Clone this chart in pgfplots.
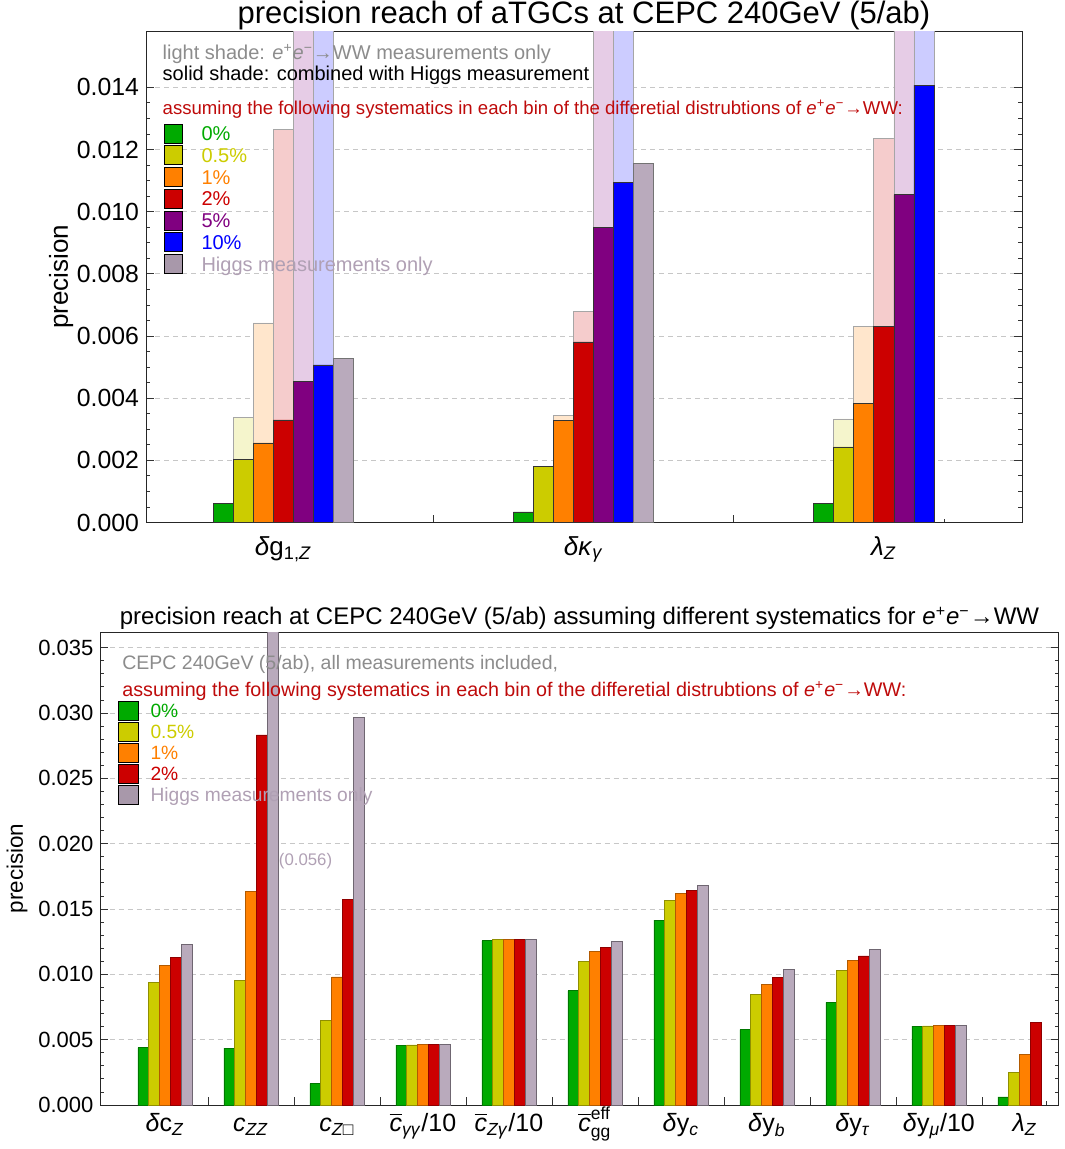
\documentclass[border=0pt]{standalone}
\usepackage{amsmath}
\usepackage{fontspec}
\setmainfont{Liberation Sans}
\usepackage{pgfplots}
\pgfplotsset{compat=1.18}
\definecolor{cgreen}{RGB}{0,170,0}
\definecolor{cyellow}{RGB}{204,204,0}
\definecolor{corange}{RGB}{255,128,0}
\definecolor{cred}{RGB}{204,0,0}
\definecolor{cpurple}{RGB}{128,0,128}
\definecolor{cblue}{RGB}{0,0,255}
\definecolor{chiggs}{RGB}{185,170,188}
\definecolor{chiggsleg}{RGB}{168,152,170}
\definecolor{thiggs}{RGB}{176,160,180}
\definecolor{tgray}{RGB}{140,140,140}
\definecolor{tred}{RGB}{190,10,10}
\pgfplotsset{
  topsolid/.style={ybar, bar width=20.07, bar shift=0pt, forget plot, draw=black!80, line width=0.4pt},
  toplight/.style={ybar, bar width=20.07, bar shift=0pt, forget plot, draw=black!35, line width=0.4pt},
  botbar/.style={ybar, bar width=10.8, bar shift=0pt, forget plot, line width=0.4pt},
}
\begin{document}
\begin{tikzpicture}
\useasboundingbox (0,0) rectangle (532pt,-574.5pt);
% ---------------- top panel ----------------
\begin{axis}[
  at={(73pt,-261.25pt)}, anchor=south west, scale only axis,
  width=438pt, height=245.55pt,
  xmin=146, xmax=1022, ymin=0, ymax=0.0158,
  xtick={433.4,733.7}, xticklabels={},
  extra x ticks={283.25,583.55,883.85},
  extra x tick labels={{\textit{δ}g$_{\text{1,\textit{Z}}}$},{\textit{δκ}$_{\text{\textit{γ}}}$},{\textit{λ}$_{\text{\textit{Z}}}$}},
  extra x tick style={major tick length=0pt, grid=none},
  xticklabel style={font=\fontsize{13}{15}\selectfont, anchor=base, yshift=-16.25pt},
  minor xtick={223.04,243.11,263.18,283.25,303.32,323.39,343.46,523.34,543.41,563.48,583.55,603.62,623.69,643.76,823.64,843.71,863.78,883.85,903.92,923.99,944.06},
  xtick pos=left,
  ytick={0,0.002,0.004,0.006,0.008,0.010,0.012,0.014},
  minor y tick num=3,
  scaled y ticks=false,
  /pgf/number format/assume math mode=true,
  yticklabel style={/pgf/number format/fixed, /pgf/number format/fixed zerofill, /pgf/number format/precision=3, font=\fontsize{12.4}{14}\selectfont},
  ymajorgrids, grid style={dash pattern=on 2.5pt off 2pt, black!22, line width=0.4pt},
  tick align=inside, major tick length=3.8pt, minor tick length=1.8pt,
  tick style={black!80, line width=0.4pt},
  axis line style={black!85, line width=0.5pt},
  title={precision reach of aTGCs at CEPC 240GeV (5/ab)},
  title style={at={(0.5,1)}, anchor=base, yshift=-2.3pt, font=\fontsize{15.5}{18}\selectfont},
  ylabel={precision},
  ylabel style={at={(axis description cs:-0.097,0.5)}, anchor=center, font=\fontsize{13}{15}\selectfont},
  legend style={at={(axis description cs:0.02055,0.8138)}, anchor=north west, draw=none, fill=none,
    inner sep=0pt, outer sep=0pt, row sep=0pt, column sep=9.15pt,
    font=\fontsize{10}{12}\selectfont,
    nodes={inner sep=0pt, text height=9.025pt, text depth=1.825pt}},
  legend cell align=left,
  legend image code/.code={\fill[#1] (0pt,-4.75pt) rectangle (9.2pt,4.75pt);},
]
% light shades (e+e- -> WW only)
\addplot[toplight, fill=cyellow!20] coordinates {(243.11,0.00338) (843.71,0.00333)};
\addplot[toplight, fill=corange!20] coordinates {(263.18,0.00642) (563.48,0.00345) (863.78,0.00631)};
\addplot[toplight, fill=cred!20] coordinates {(283.25,0.01265) (583.55,0.00678) (883.85,0.01237)};
\addplot[toplight, fill=cpurple!20] coordinates {(303.32,0.0170) (603.62,0.0170) (903.92,0.0170)};
\addplot[toplight, fill=cblue!20] coordinates {(323.39,0.0170) (623.69,0.0170) (923.99,0.0170)};
% solid shades (combined)
\addplot[topsolid, fill=cgreen] coordinates {(223.04,0.00062) (523.34,0.00034) (823.64,0.00062)};
\addplot[topsolid, fill=cyellow] coordinates {(243.11,0.00202) (543.41,0.00180) (843.71,0.00243)};
\addplot[topsolid, fill=corange] coordinates {(263.18,0.00256) (563.48,0.00328) (863.78,0.00384)};
\addplot[topsolid, fill=cred] coordinates {(283.25,0.00330) (583.55,0.00581) (883.85,0.00631)};
\addplot[topsolid, fill=cpurple] coordinates {(303.32,0.00453) (603.62,0.00949) (903.92,0.01055)};
\addplot[topsolid, fill=cblue] coordinates {(323.39,0.00507) (623.69,0.01093) (923.99,0.01407)};
\addplot[toplight, fill=chiggs, draw=black!55] coordinates {(343.46,0.00528) (643.76,0.01155)};
% legend
\addlegendimage{fill=cgreen}\addlegendentry{\textcolor{cgreen}{0\%}}
\addlegendimage{fill=cyellow}\addlegendentry{\textcolor{cyellow}{0.5\%}}
\addlegendimage{fill=corange}\addlegendentry{\textcolor{corange}{1\%}}
\addlegendimage{fill=cred}\addlegendentry{\textcolor{cred}{2\%}}
\addlegendimage{fill=cpurple}\addlegendentry{\textcolor{cpurple}{5\%}}
\addlegendimage{fill=cblue}\addlegendentry{\textcolor{cblue}{10\%}}
\addlegendimage{fill=chiggsleg}\addlegendentry{\textcolor{thiggs}{Higgs measurements only}}
\node[anchor=base west, inner sep=0pt, text=tgray, font=\fontsize{10}{12}\selectfont] at (axis description cs:0.0186,0.9418) {light shade: \textit{e}\textsuperscript{+}\textit{e}\textsuperscript{−}→WW measurements only};
\node[anchor=base west, inner sep=0pt, text=black, font=\fontsize{10}{12}\selectfont] at (axis description cs:0.0186,0.8996) {solid shade: combined with Higgs measurement};
\node[anchor=base west, inner sep=0pt, text=tred, font=\fontsize{9.3}{11}\selectfont] at (axis description cs:0.0186,0.8298) {assuming the following systematics in each bin of the differetial distrubtions of \textit{e}\textsuperscript{+}\textit{e}\textsuperscript{−}→WW:};
\end{axis}
% ---------------- bottom panel ----------------
\begin{axis}[
  at={(50.25pt,-552.5pt)}, anchor=south west, scale only axis,
  width=479pt, height=236.5pt,
  xmin=100.5, xmax=1058.5, ymin=0, ymax=0.0362,
  xtick={207.9,293.9,379.9,465.9,551.9,637.9,723.9,809.9,895.9,981.9}, xticklabels={},
  extra x ticks={164.9,250.9,336.9,422.9,508.9,594.9,680.9,766.9,852.9,938.9,1024.9},
  extra x tick labels={
    {\textit{δ}c$_{\text{\textit{Z}}}$},
    {\textit{c}$_{\text{\textit{ZZ}}}$},
    {\textit{c}$_{\text{\textit{Z}□}}$},
    {$\overline{\text{\textit{c}}}_{\text{\textit{γγ}}}$/10},
    {$\overline{\text{\textit{c}}}_{\text{\textit{Zγ}}}$/10},
    {$\overline{\text{\textit{c}}}^{\text{eff}}_{\text{gg}}$},
    {\textit{δ}y$_{\text{\textit{c}}}$},
    {\textit{δ}y$_{\text{\textit{b}}}$},
    {\textit{δ}y$_{\text{\textit{τ}}}$},
    {\textit{δ}y$_{\text{\textit{μ}}}$/10},
    {\textit{λ}$_{\text{\textit{Z}}}$}},
  extra x tick style={major tick length=0pt, grid=none},
  xticklabel style={font=\fontsize{12.5}{15}\selectfont, anchor=base, yshift=-13.3pt},
  minor xtick={143.3,154.1,164.9,175.7,186.5,229.3,240.1,250.9,261.7,272.5,315.3,326.1,336.9,347.7,358.5,401.3,412.1,422.9,433.7,444.5,487.3,498.1,508.9,519.7,530.5,573.3,584.1,594.9,605.7,616.5,659.3,670.1,680.9,691.7,702.5,745.3,756.1,766.9,777.7,788.5,831.3,842.1,852.9,863.7,874.5,917.3,928.1,938.9,949.7,960.5,1003.3,1014.1,1024.9,1035.7,1046.5},
  xtick pos=left,
  ytick={0,0.005,0.010,0.015,0.020,0.025,0.030,0.035},
  minor y tick num=4,
  scaled y ticks=false,
  /pgf/number format/assume math mode=true,
  yticklabel style={/pgf/number format/fixed, /pgf/number format/fixed zerofill, /pgf/number format/precision=3, font=\fontsize{11}{13}\selectfont},
  ymajorgrids, grid style={dash pattern=on 2.5pt off 2pt, black!22, line width=0.4pt},
  tick align=inside, major tick length=3.8pt, minor tick length=1.8pt,
  tick style={black!80, line width=0.4pt},
  axis line style={black!85, line width=0.5pt},
  title={precision reach at CEPC 240GeV (5/ab) assuming different systematics for \textit{e}\textsuperscript{+}\textit{e}\textsuperscript{−}→WW},
  title style={at={(0.5,1)}, anchor=base, yshift=-2.4pt, font=\fontsize{12}{14}\selectfont},
  ylabel={precision},
  ylabel style={at={(axis description cs:-0.0872,0.5)}, anchor=center, font=\fontsize{11.2}{13}\selectfont},
  legend style={at={(axis description cs:0.0186,0.8552)}, anchor=north west, draw=none, fill=none,
    inner sep=0pt, outer sep=0pt, row sep=0pt, column sep=5.7pt,
    font=\fontsize{9.6}{11}\selectfont,
    nodes={inner sep=0pt, text height=8.7pt, text depth=1.8pt}},
  legend cell align=left,
  legend image code/.code={\fill[#1] (0pt,-4.625pt) rectangle (10pt,4.625pt);},
]
\addplot[botbar, fill=cgreen, draw=cgreen!70!black] coordinates {(143.3,0.00440) (229.3,0.00435) (315.3,0.00163) (401.3,0.00458) (487.3,0.01257) (573.3,0.00874) (659.3,0.01415) (745.3,0.00577) (831.3,0.00786) (917.3,0.00603) (1003.3,0.00062)};
\addplot[botbar, fill=cyellow, draw=cyellow!70!black] coordinates {(154.1,0.00936) (240.1,0.00954) (326.1,0.00644) (412.1,0.00460) (498.1,0.01265) (584.1,0.01099) (670.1,0.01567) (756.1,0.00848) (842.1,0.01030) (928.1,0.00605) (1014.1,0.00246)};
\addplot[botbar, fill=corange, draw=corange!70!black] coordinates {(164.9,0.01066) (250.9,0.01637) (336.9,0.00980) (422.9,0.00463) (508.9,0.01270) (594.9,0.01172) (680.9,0.01617) (766.9,0.00926) (852.9,0.01104) (938.9,0.00608) (1024.9,0.00385)};
\addplot[botbar, fill=cred, draw=cred!70!black] coordinates {(175.7,0.01130) (261.7,0.02832) (347.7,0.01570) (433.7,0.00463) (519.7,0.01270) (605.7,0.01208) (691.7,0.01645) (777.7,0.00973) (863.7,0.01141) (949.7,0.00608) (1035.7,0.00631)};
\addplot[botbar, fill=chiggs, draw=chiggs!60!black] coordinates {(186.5,0.01226) (272.5,0.05600) (358.5,0.02969) (444.5,0.00463) (530.5,0.01270) (616.5,0.01252) (702.5,0.01679) (788.5,0.01037) (874.5,0.01190) (960.5,0.00608)};
\addlegendimage{fill=cgreen}\addlegendentry{\textcolor{cgreen}{0\%}}
\addlegendimage{fill=cyellow}\addlegendentry{\textcolor{cyellow}{0.5\%}}
\addlegendimage{fill=corange}\addlegendentry{\textcolor{corange}{1\%}}
\addlegendimage{fill=cred}\addlegendentry{\textcolor{cred}{2\%}}
\addlegendimage{fill=chiggsleg}\addlegendentry{\textcolor{thiggs}{Higgs measurements only}}
\node[anchor=base west, inner sep=0pt, text=tgray, font=\fontsize{9.75}{12}\selectfont] at (axis description cs:0.02244,0.9197) {CEPC 240GeV (5/ab), all measurements included,};
\node[anchor=base west, inner sep=0pt, text=tred, font=\fontsize{9.85}{12}\selectfont] at (axis description cs:0.02244,0.8630) {assuming the following systematics in each bin of the differetial distrubtions of \textit{e}\textsuperscript{+}\textit{e}\textsuperscript{−}→WW:};
\node[anchor=west, inner sep=0pt, text=thiggs, font=\fontsize{8.4}{10}\selectfont] at (axis cs:278.5,0.0187) {(0.056)};
\end{axis}
\end{tikzpicture}
\end{document}
